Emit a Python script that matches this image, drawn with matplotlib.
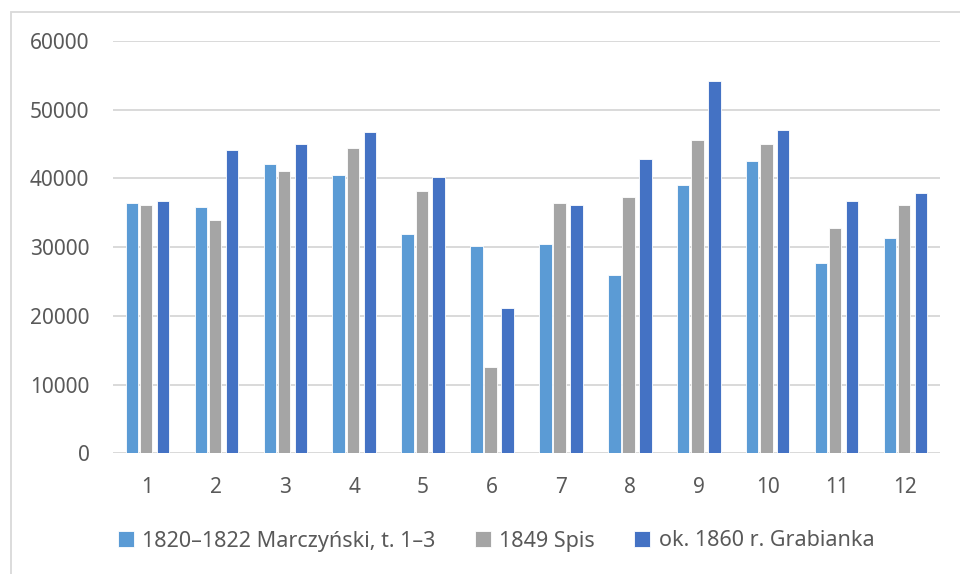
import matplotlib
matplotlib.use("Agg")
import matplotlib.pyplot as plt
from matplotlib.patches import Rectangle
import numpy as np

categories = ["1", "2", "3", "4", "5", "6", "7", "8", "9", "10", "11", "12"]
series_names = ["1820–1822 Marczyński, t. 1–3", "1849 Spis", "ok. 1860 r. Grabianka"]
marczynski = [36400, 35800, 42100, 40500, 31900, 30200, 30400, 25950, 39050, 42600, 27750, 31300]
spis_1849 = [36100, 34000, 41150, 44450, 38200, 12600, 36400, 37250, 45550, 45000, 32800, 36100]
grabianka = [36700, 44100, 45000, 46750, 40200, 21200, 36100, 42900, 54200, 47050, 36700, 37850]
colors = ["#5B9BD5", "#A5A5A5", "#4472C4"]
yticks = [0, 10000, 20000, 30000, 40000, 50000, 60000]

W, H = 960, 574
fig = plt.figure(figsize=(W / 100, H / 100), dpi=100)
plt.rcParams['font.family'] = ['Noto Sans', 'DejaVu Sans']

# outer chart border
fig.patches.append(Rectangle((11 / W, -0.1), 1.2, 1 - 12 / H + 0.1, transform=fig.transFigure,
                             fill=False, edgecolor="#D9D9D9", linewidth=1.3))

left, right, top, bottom = 113, 940, 41, 453.3
ax = fig.add_axes([left / W, 1 - bottom / H, (right - left) / W, (bottom - top) / H])

x = np.arange(len(categories))
width = 0.18
offsets = [-0.225, -0.02, 0.225]
for vals, off, col, name in zip([marczynski, spis_1849, grabianka], offsets, colors, series_names):
    ax.bar(x + off, vals, width=width, color=col, edgecolor="white", linewidth=0.6, label=name, zorder=3)

ax.set_xlim(-0.5, len(categories) - 0.5)
ax.set_ylim(0, 60000)
ax.set_yticks(yticks)
ax.set_yticklabels([str(v) for v in yticks])
ax.set_xticks(x)
ax.set_xticklabels(categories)
ax.grid(axis="y", color="#D9D9D9", linewidth=1.4, zorder=0)
for s in ax.spines.values():
    s.set_visible(False)
ax.tick_params(axis="both", length=0, labelsize=15, labelcolor="#595959")
ax.tick_params(axis="y", pad=17)
ax.tick_params(axis="x", pad=17)

leg = fig.legend(loc="center", bbox_to_anchor=(496 / W, 1 - 541 / H), ncol=3, frameon=False,
                 fontsize=15.5, labelcolor="#595959", handlelength=0.75, handleheight=0.75,
                 handletextpad=0.4, columnspacing=1.8)

fig.savefig("out.png", dpi=100)
